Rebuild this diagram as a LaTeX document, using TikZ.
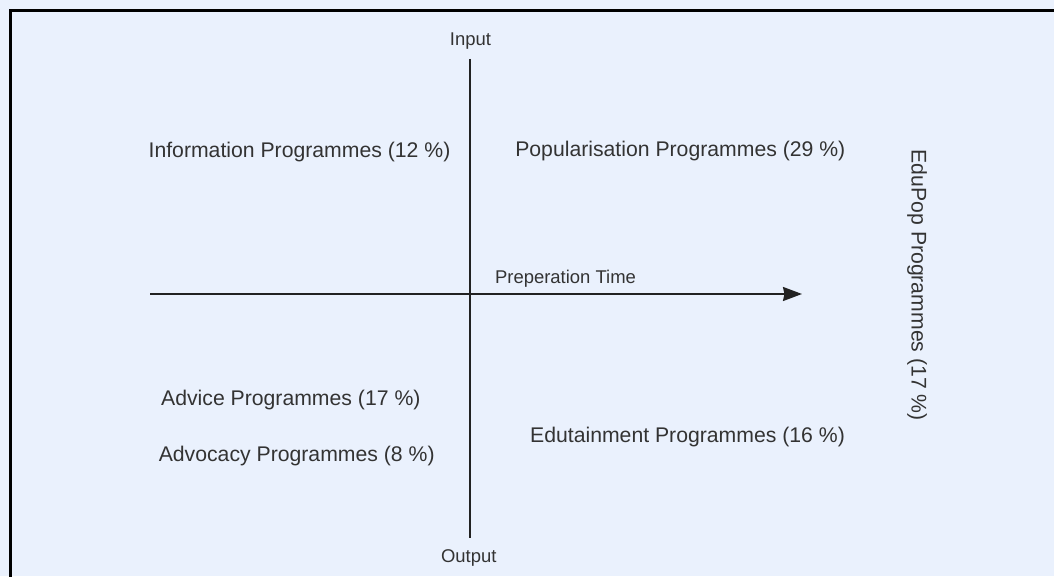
\documentclass[tikz,border=0pt]{standalone}
\usepackage{fontspec}
\setmainfont{Liberation Sans}
\usepackage{tikz}
\usetikzlibrary{arrows.meta}
\definecolor{paper}{RGB}{234,241,253}
\definecolor{ink}{RGB}{34,34,34}
\definecolor{label}{RGB}{51,51,51}

\begin{document}
\begin{tikzpicture}[
  prog/.style={anchor=base,text=label,inner sep=0pt,font=\fontsize{12.07}{14}\selectfont},
  tick/.style={anchor=base,text=label,inner sep=0pt,font=\fontsize{10.5}{12}\selectfont},
  axis/.style={color=ink,line width=0.04cm},
]

% page and frame
\useasboundingbox (0,0) rectangle (21.08,11.52);
\clip (0,0) rectangle (21.08,11.52);
\fill[paper] (0,0) rectangle (21.08,11.52);
\draw[black,line width=0.06cm] (0.21,-1) |- (22,11.31);

% axes
\coordinate (top) at (9.39,10.34);
\coordinate (bottom) at (9.39,0.76);
\coordinate (west) at (3.0,5.64);
\coordinate (east) at (16.04,5.64);

\draw[axis] (top) -- (bottom);
\draw[axis,-{Stealth[length=0.38cm,width=0.28cm,inset=0.03cm]}] (west) -- (east);

\node[tick] (input) at (9.41,10.6) {Input};
\node[tick] (output) at (9.374,0.266) {Output};
\node[tick] (time) at (11.31,5.846) {Preperation Time};

% quadrants
\node[prog] (info) at (5.99,8.374) {Information Programmes (12 \%)};
\node[prog] (popu) at (13.606,8.386) {Popularisation Programmes (29 \%)};
\node[prog] (advice) at (5.816,3.4) {Advice Programmes (17 \%)};
\node[prog] (advocacy) at (5.934,2.286) {Advocacy Programmes (8 \%)};
\node[prog] (edutain) at (13.75,2.666) {Edutainment Programmes (16 \%)};
\node[prog,rotate=-90] (edupop) at (18.234,5.814) {EduPop Programmes (17 \%)};

\end{tikzpicture}
\end{document}
